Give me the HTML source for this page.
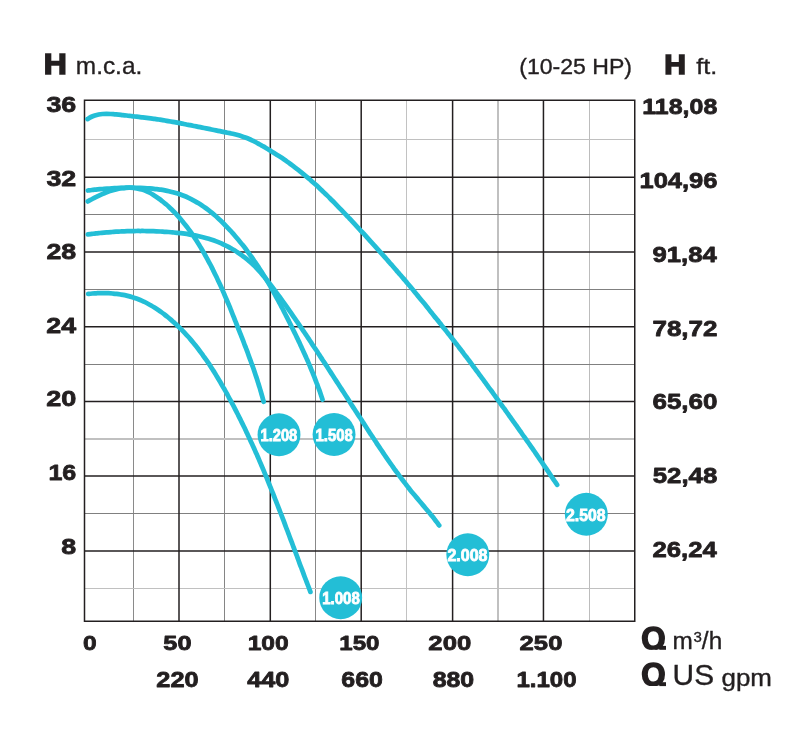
<!DOCTYPE html>
<html lang="es"><head><meta charset="utf-8"><title>Curvas</title>
<style>html,body{margin:0;padding:0;background:#fff}body{width:802px;height:740px;overflow:hidden}svg{display:block}text{font-family:"Liberation Sans",sans-serif;fill:#231f20}.b{font-weight:bold;stroke:#231f20;stroke-width:.8px;stroke-linejoin:round}.r{stroke:#231f20;stroke-width:.35px}.k{font-weight:bold;stroke:#231f20;stroke-width:1.5px;stroke-linejoin:miter}.w{font-weight:bold;fill:#fff;stroke:#fff;stroke-width:.8px}</style></head><body>
<svg width="802" height="740" viewBox="0 0 802 740">
<rect width="802" height="740" fill="#fff"/>
<g shape-rendering="crispEdges"><rect x="133" y="101" width="1" height="520" fill="#8a8a8a"/><rect x="224" y="101" width="1" height="520" fill="#858585"/><rect x="315" y="101" width="1" height="520" fill="#888888"/><rect x="406" y="101" width="1" height="520" fill="#c2c2c2"/><rect x="497" y="101" width="2" height="520" fill="#c0c0c0"/><rect x="589" y="101" width="1" height="520" fill="#bcbcbc"/><rect x="85" y="139" width="549" height="1" fill="#c0c0c0"/><rect x="85" y="214" width="549" height="1" fill="#808080"/><rect x="85" y="289" width="549" height="1" fill="#808080"/><rect x="85" y="364" width="549" height="1" fill="#808080"/><rect x="85" y="438" width="549" height="2" fill="#c0c0c0"/><rect x="85" y="513" width="549" height="1" fill="#808080"/><rect x="85" y="588" width="549" height="1" fill="#c0c0c0"/></g>
<g stroke="#231f20" stroke-width="1.5" fill="none"><line x1="179.00" y1="100.25" x2="179.00" y2="621.25"/><line x1="270.30" y1="100.25" x2="270.30" y2="621.25"/><line x1="361.20" y1="100.25" x2="361.20" y2="621.25"/><line x1="452.60" y1="100.25" x2="452.60" y2="621.25"/><line x1="543.45" y1="100.25" x2="543.45" y2="621.25"/><line x1="84.50" y1="177.30" x2="634.75" y2="177.30"/><line x1="84.50" y1="251.90" x2="634.75" y2="251.90"/><line x1="84.50" y1="326.70" x2="634.75" y2="326.70"/><line x1="84.50" y1="401.50" x2="634.75" y2="401.50"/><line x1="84.50" y1="476.10" x2="634.75" y2="476.10"/><line x1="84.50" y1="551.00" x2="634.75" y2="551.00"/><rect x="84.50" y="100.25" width="550.25" height="521.00"/></g>
<g stroke="#23bed6" stroke-width="4.75" fill="none" stroke-linecap="round" stroke-linejoin="round"><path d="M87.50,119.10 C88.08,118.75 89.78,117.60 91.00,117.00 C92.22,116.40 93.53,115.92 94.80,115.50 C96.07,115.08 97.30,114.75 98.60,114.50 C99.90,114.25 101.27,114.10 102.60,114.00 C103.93,113.90 105.25,113.90 106.60,113.90 C107.95,113.90 109.35,113.93 110.70,114.00 C112.05,114.07 113.37,114.20 114.70,114.30 C116.03,114.40 117.37,114.47 118.70,114.60 C120.03,114.73 121.37,114.95 122.70,115.10 C124.03,115.25 125.37,115.35 126.70,115.50 C128.03,115.65 129.37,115.83 130.70,116.00 C132.03,116.17 133.37,116.35 134.70,116.50 C136.03,116.65 137.37,116.75 138.70,116.90 C140.03,117.05 141.37,117.23 142.70,117.40 C144.03,117.57 145.37,117.73 146.70,117.90 C148.03,118.07 149.37,118.23 150.70,118.40 C152.03,118.57 153.37,118.72 154.70,118.90 C156.03,119.08 157.38,119.30 158.70,119.50 C160.02,119.70 161.28,119.88 162.60,120.10 C163.92,120.32 165.27,120.57 166.60,120.80 C167.93,121.03 169.28,121.27 170.60,121.50 C171.92,121.73 173.18,121.97 174.50,122.20 C175.82,122.43 177.17,122.65 178.50,122.90 C179.83,123.15 181.18,123.43 182.50,123.70 C183.82,123.97 185.08,124.25 186.40,124.50 C187.72,124.75 189.08,124.95 190.40,125.20 C191.72,125.45 192.98,125.73 194.30,126.00 C195.62,126.27 196.98,126.53 198.30,126.80 C199.62,127.07 200.88,127.33 202.20,127.60 C203.52,127.87 204.88,128.13 206.20,128.40 C207.52,128.67 208.80,128.93 210.10,129.20 C211.40,129.47 212.68,129.73 214.00,130.00 C215.32,130.27 216.68,130.53 218.00,130.80 C219.32,131.07 220.58,131.33 221.90,131.60 C223.22,131.87 224.57,132.13 225.90,132.40 C227.23,132.67 228.58,132.93 229.90,133.20 C231.22,133.47 232.50,133.70 233.80,134.00 C235.10,134.30 236.40,134.63 237.70,135.00 C239.00,135.37 240.33,135.78 241.60,136.20 C242.87,136.62 244.05,137.03 245.30,137.50 C246.55,137.97 247.87,138.47 249.10,139.00 C250.33,139.53 251.50,140.12 252.70,140.70 C253.90,141.28 255.12,141.87 256.30,142.50 C257.48,143.13 258.63,143.85 259.80,144.50 C260.97,145.15 262.13,145.73 263.30,146.40 C264.47,147.07 265.63,147.80 266.80,148.50 C267.97,149.20 269.15,149.90 270.30,150.60 C271.45,151.30 272.57,151.98 273.70,152.70 C274.83,153.42 275.97,154.17 277.10,154.90 C278.23,155.63 279.38,156.37 280.50,157.10 C281.62,157.83 282.70,158.55 283.80,159.30 C284.90,160.05 286.00,160.82 287.10,161.60 C288.20,162.38 289.32,163.20 290.40,164.00 C291.48,164.80 292.53,165.60 293.60,166.40 C294.67,167.20 295.73,167.98 296.80,168.80 C297.87,169.62 298.95,170.47 300.00,171.30 C301.05,172.13 302.07,172.95 303.10,173.80 C304.13,174.65 305.17,175.53 306.20,176.40 C307.23,177.27 308.28,178.12 309.30,179.00 C310.32,179.88 311.30,180.82 312.30,181.70 C313.30,182.58 314.30,183.42 315.30,184.30 C316.30,185.18 317.32,186.08 318.30,187.00 C319.28,187.92 320.23,188.87 321.20,189.80 C322.17,190.73 323.13,191.67 324.10,192.60 C325.07,193.53 326.03,194.47 327.00,195.40 C327.97,196.33 328.95,197.27 329.90,198.20 C330.85,199.13 331.77,200.05 332.70,201.00 C333.63,201.95 334.57,202.93 335.50,203.90 C336.43,204.87 337.37,205.83 338.30,206.80 C339.23,207.77 340.17,208.73 341.10,209.70 C342.03,210.67 342.97,211.63 343.90,212.60 C344.83,213.57 345.77,214.52 346.70,215.50 C347.63,216.48 348.58,217.52 349.50,218.50 C350.42,219.48 351.28,220.42 352.20,221.40 C353.12,222.38 354.08,223.42 355.00,224.40 C355.92,225.38 356.80,226.32 357.70,227.30 C358.60,228.28 359.48,229.32 360.40,230.30 C361.32,231.28 362.28,232.22 363.20,233.20 C364.12,234.18 365.00,235.20 365.90,236.20 C366.80,237.20 367.70,238.20 368.60,239.20 C369.50,240.20 370.40,241.22 371.30,242.20 C372.20,243.18 373.10,244.12 374.00,245.10 C374.90,246.08 375.80,247.10 376.70,248.10 C377.60,249.10 378.50,250.10 379.40,251.10 C380.30,252.10 381.20,253.10 382.10,254.10 C383.00,255.10 383.92,256.10 384.80,257.10 C385.68,258.10 386.52,259.08 387.40,260.10 C388.28,261.12 389.20,262.18 390.10,263.20 C391.00,264.22 391.92,265.20 392.80,266.20 C393.68,267.20 394.53,268.18 395.40,269.20 C396.27,270.22 397.12,271.28 398.00,272.30 C398.88,273.32 399.82,274.28 400.70,275.30 C401.58,276.32 402.43,277.38 403.30,278.40 C404.17,279.42 405.03,280.38 405.90,281.40 C406.77,282.42 407.63,283.47 408.50,284.50 C409.37,285.53 410.23,286.57 411.10,287.60 C411.97,288.63 412.85,289.67 413.70,290.70 C414.55,291.73 415.35,292.77 416.20,293.80 C417.05,294.83 417.95,295.87 418.80,296.90 C419.65,297.93 420.45,298.97 421.30,300.00 C422.15,301.03 423.05,302.07 423.90,303.10 C424.75,304.13 425.57,305.15 426.40,306.20 C427.23,307.25 428.07,308.35 428.90,309.40 C429.73,310.45 430.57,311.45 431.40,312.50 C432.23,313.55 433.07,314.65 433.90,315.70 C434.73,316.75 435.55,317.77 436.40,318.80 C437.25,319.83 438.15,320.85 439.00,321.90 C439.85,322.95 440.67,324.05 441.50,325.10 C442.33,326.15 443.17,327.15 444.00,328.20 C444.83,329.25 445.67,330.35 446.50,331.40 C447.33,332.45 448.17,333.45 449.00,334.50 C449.83,335.55 450.68,336.65 451.50,337.70 C452.32,338.75 453.08,339.75 453.90,340.80 C454.72,341.85 455.57,342.93 456.40,344.00 C457.23,345.07 458.08,346.13 458.90,347.20 C459.72,348.27 460.50,349.33 461.30,350.40 C462.10,351.47 462.88,352.53 463.70,353.60 C464.52,354.67 465.38,355.73 466.20,356.80 C467.02,357.87 467.80,358.93 468.60,360.00 C469.40,361.07 470.20,362.12 471.00,363.20 C471.80,364.28 472.60,365.42 473.40,366.50 C474.20,367.58 475.00,368.63 475.80,369.70 C476.60,370.77 477.40,371.82 478.20,372.90 C479.00,373.98 479.80,375.12 480.60,376.20 C481.40,377.28 482.20,378.32 483.00,379.40 C483.80,380.48 484.62,381.62 485.40,382.70 C486.18,383.78 486.92,384.82 487.70,385.90 C488.48,386.98 489.30,388.12 490.10,389.20 C490.90,390.28 491.72,391.32 492.50,392.40 C493.28,393.48 494.02,394.60 494.80,395.70 C495.58,396.80 496.40,397.92 497.20,399.00 C498.00,400.08 498.82,401.12 499.60,402.20 C500.38,403.28 501.12,404.42 501.90,405.50 C502.68,406.58 503.52,407.62 504.30,408.70 C505.08,409.78 505.82,410.90 506.60,412.00 C507.38,413.10 508.22,414.20 509.00,415.30 C509.78,416.40 510.53,417.52 511.30,418.60 C512.07,419.68 512.82,420.72 513.60,421.80 C514.38,422.88 515.22,424.00 516.00,425.10 C516.78,426.20 517.53,427.30 518.30,428.40 C519.07,429.50 519.83,430.60 520.60,431.70 C521.37,432.80 522.12,433.90 522.90,435.00 C523.68,436.10 524.52,437.20 525.30,438.30 C526.08,439.40 526.83,440.50 527.60,441.60 C528.37,442.70 529.13,443.80 529.90,444.90 C530.67,446.00 531.43,447.10 532.20,448.20 C532.97,449.30 533.73,450.40 534.50,451.50 C535.27,452.60 536.05,453.70 536.80,454.80 C537.55,455.90 538.25,457.00 539.00,458.10 C539.75,459.20 540.53,460.28 541.30,461.40 C542.07,462.52 542.83,463.68 543.60,464.80 C544.37,465.92 545.15,467.00 545.90,468.10 C546.65,469.20 547.35,470.28 548.10,471.40 C548.85,472.52 549.65,473.68 550.40,474.80 C551.15,475.92 551.85,476.98 552.60,478.10 C553.35,479.22 554.15,480.38 554.90,481.50 C555.65,482.62 556.73,484.25 557.10,484.80"/><path d="M87.80,190.50 C88.47,190.42 90.45,190.15 91.80,190.00 C93.15,189.85 94.55,189.73 95.90,189.60 C97.25,189.47 98.55,189.32 99.90,189.20 C101.25,189.08 102.65,189.00 104.00,188.90 C105.35,188.80 106.67,188.70 108.00,188.60 C109.33,188.50 110.67,188.38 112.00,188.30 C113.33,188.22 114.65,188.17 116.00,188.10 C117.35,188.03 118.75,187.95 120.10,187.90 C121.45,187.85 122.75,187.83 124.10,187.80 C125.45,187.77 126.85,187.72 128.20,187.70 C129.55,187.68 130.85,187.68 132.20,187.70 C133.55,187.72 134.93,187.77 136.30,187.80 C137.67,187.83 139.05,187.85 140.40,187.90 C141.75,187.95 143.05,188.02 144.40,188.10 C145.75,188.18 147.13,188.30 148.50,188.40 C149.87,188.50 151.23,188.57 152.60,188.70 C153.97,188.83 155.33,189.03 156.70,189.20 C158.07,189.37 159.43,189.50 160.80,189.70 C162.17,189.90 163.55,190.15 164.90,190.40 C166.25,190.65 167.57,190.90 168.90,191.20 C170.23,191.50 171.58,191.85 172.90,192.20 C174.22,192.55 175.52,192.92 176.80,193.30 C178.08,193.68 179.33,194.05 180.60,194.50 C181.87,194.95 183.17,195.48 184.40,196.00 C185.63,196.52 186.80,197.03 188.00,197.60 C189.20,198.17 190.40,198.78 191.60,199.40 C192.80,200.02 194.03,200.65 195.20,201.30 C196.37,201.95 197.47,202.60 198.60,203.30 C199.73,204.00 200.88,204.75 202.00,205.50 C203.12,206.25 204.22,207.02 205.30,207.80 C206.38,208.58 207.43,209.38 208.50,210.20 C209.57,211.02 210.65,211.85 211.70,212.70 C212.75,213.55 213.78,214.42 214.80,215.30 C215.82,216.18 216.80,217.08 217.80,218.00 C218.80,218.92 219.80,219.85 220.80,220.80 C221.80,221.75 222.83,222.73 223.80,223.70 C224.77,224.67 225.67,225.62 226.60,226.60 C227.53,227.58 228.47,228.60 229.40,229.60 C230.33,230.60 231.28,231.58 232.20,232.60 C233.12,233.62 234.02,234.67 234.90,235.70 C235.78,236.73 236.63,237.77 237.50,238.80 C238.37,239.83 239.23,240.85 240.10,241.90 C240.97,242.95 241.85,244.03 242.70,245.10 C243.55,246.17 244.38,247.22 245.20,248.30 C246.02,249.38 246.80,250.52 247.60,251.60 C248.40,252.68 249.20,253.72 250.00,254.80 C250.80,255.88 251.62,256.98 252.40,258.10 C253.18,259.22 253.93,260.38 254.70,261.50 C255.47,262.62 256.25,263.68 257.00,264.80 C257.75,265.92 258.47,267.07 259.20,268.20 C259.93,269.33 260.68,270.47 261.40,271.60 C262.12,272.73 262.78,273.85 263.50,275.00 C264.22,276.15 265.00,277.35 265.70,278.50 C266.40,279.65 267.02,280.75 267.70,281.90 C268.38,283.05 269.12,284.22 269.80,285.40 C270.48,286.58 271.13,287.82 271.80,289.00 C272.47,290.18 273.15,291.33 273.80,292.50 C274.45,293.67 275.05,294.82 275.70,296.00 C276.35,297.18 277.05,298.40 277.70,299.60 C278.35,300.80 278.97,302.00 279.60,303.20 C280.23,304.40 280.87,305.60 281.50,306.80 C282.13,308.00 282.78,309.20 283.40,310.40 C284.02,311.60 284.58,312.80 285.20,314.00 C285.82,315.20 286.48,316.40 287.10,317.60 C287.72,318.80 288.30,319.98 288.90,321.20 C289.50,322.42 290.10,323.68 290.70,324.90 C291.30,326.12 291.90,327.30 292.50,328.50 C293.10,329.70 293.70,330.88 294.30,332.10 C294.90,333.32 295.50,334.57 296.10,335.80 C296.70,337.03 297.32,338.28 297.90,339.50 C298.48,340.72 299.03,341.88 299.60,343.10 C300.17,344.32 300.73,345.57 301.30,346.80 C301.87,348.03 302.43,349.27 303.00,350.50 C303.57,351.73 304.15,352.97 304.70,354.20 C305.25,355.43 305.75,356.67 306.30,357.90 C306.85,359.13 307.45,360.35 308.00,361.60 C308.55,362.85 309.08,364.15 309.60,365.40 C310.12,366.65 310.58,367.85 311.10,369.10 C311.62,370.35 312.18,371.65 312.70,372.90 C313.22,374.15 313.72,375.35 314.20,376.60 C314.68,377.85 315.12,379.13 315.60,380.40 C316.08,381.67 316.62,382.93 317.10,384.20 C317.58,385.47 318.03,386.73 318.50,388.00 C318.97,389.27 319.45,390.52 319.90,391.80 C320.35,393.08 320.77,394.42 321.20,395.70 C321.63,396.98 322.28,398.87 322.50,399.50"/><path d="M87.80,201.40 C88.38,201.08 90.13,200.13 91.30,199.50 C92.47,198.87 93.60,198.22 94.80,197.60 C96.00,196.98 97.27,196.38 98.50,195.80 C99.73,195.22 100.95,194.65 102.20,194.10 C103.45,193.55 104.72,193.00 106.00,192.50 C107.28,192.00 108.60,191.53 109.90,191.10 C111.20,190.67 112.48,190.27 113.80,189.90 C115.12,189.53 116.47,189.18 117.80,188.90 C119.13,188.62 120.45,188.38 121.80,188.20 C123.15,188.02 124.55,187.88 125.90,187.80 C127.25,187.72 128.57,187.67 129.90,187.70 C131.23,187.73 132.57,187.85 133.90,188.00 C135.23,188.15 136.58,188.35 137.90,188.60 C139.22,188.85 140.52,189.13 141.80,189.50 C143.08,189.87 144.37,190.30 145.60,190.80 C146.83,191.30 148.02,191.88 149.20,192.50 C150.38,193.12 151.55,193.80 152.70,194.50 C153.85,195.20 154.98,195.95 156.10,196.70 C157.22,197.45 158.32,198.20 159.40,199.00 C160.48,199.80 161.53,200.65 162.60,201.50 C163.67,202.35 164.77,203.23 165.80,204.10 C166.83,204.97 167.82,205.80 168.80,206.70 C169.78,207.60 170.73,208.55 171.70,209.50 C172.67,210.45 173.67,211.43 174.60,212.40 C175.53,213.37 176.40,214.30 177.30,215.30 C178.20,216.30 179.12,217.37 180.00,218.40 C180.88,219.43 181.73,220.45 182.60,221.50 C183.47,222.55 184.35,223.63 185.20,224.70 C186.05,225.77 186.88,226.82 187.70,227.90 C188.52,228.98 189.32,230.10 190.10,231.20 C190.88,232.30 191.63,233.38 192.40,234.50 C193.17,235.62 193.95,236.77 194.70,237.90 C195.45,239.03 196.17,240.15 196.90,241.30 C197.63,242.45 198.38,243.65 199.10,244.80 C199.82,245.95 200.52,247.05 201.20,248.20 C201.88,249.35 202.53,250.53 203.20,251.70 C203.87,252.87 204.53,254.02 205.20,255.20 C205.87,256.38 206.55,257.60 207.20,258.80 C207.85,260.00 208.47,261.22 209.10,262.40 C209.73,263.58 210.38,264.72 211.00,265.90 C211.62,267.08 212.20,268.28 212.80,269.50 C213.40,270.72 214.00,271.98 214.60,273.20 C215.20,274.42 215.82,275.58 216.40,276.80 C216.98,278.02 217.53,279.28 218.10,280.50 C218.67,281.72 219.23,282.88 219.80,284.10 C220.37,285.32 220.95,286.57 221.50,287.80 C222.05,289.03 222.57,290.27 223.10,291.50 C223.63,292.73 224.17,293.95 224.70,295.20 C225.23,296.45 225.77,297.75 226.30,299.00 C226.83,300.25 227.37,301.47 227.90,302.70 C228.43,303.93 228.98,305.15 229.50,306.40 C230.02,307.65 230.50,308.93 231.00,310.20 C231.50,311.47 232.00,312.75 232.50,314.00 C233.00,315.25 233.50,316.45 234.00,317.70 C234.50,318.95 235.00,320.23 235.50,321.50 C236.00,322.77 236.50,324.05 237.00,325.30 C237.50,326.55 238.00,327.75 238.50,329.00 C239.00,330.25 239.50,331.53 240.00,332.80 C240.50,334.07 241.00,335.33 241.50,336.60 C242.00,337.87 242.52,339.13 243.00,340.40 C243.48,341.67 243.92,342.93 244.40,344.20 C244.88,345.47 245.42,346.75 245.90,348.00 C246.38,349.25 246.83,350.43 247.30,351.70 C247.77,352.97 248.23,354.32 248.70,355.60 C249.17,356.88 249.63,358.13 250.10,359.40 C250.57,360.67 251.03,361.93 251.50,363.20 C251.97,364.47 252.45,365.73 252.90,367.00 C253.35,368.27 253.77,369.52 254.20,370.80 C254.63,372.08 255.07,373.42 255.50,374.70 C255.93,375.98 256.38,377.22 256.80,378.50 C257.22,379.78 257.60,381.12 258.00,382.40 C258.40,383.68 258.80,384.92 259.20,386.20 C259.60,387.48 260.02,388.80 260.40,390.10 C260.78,391.40 261.13,392.70 261.50,394.00 C261.87,395.30 262.23,396.60 262.60,397.90 C262.97,399.20 263.52,401.15 263.70,401.80"/><path d="M87.80,234.40 C88.48,234.32 90.55,234.07 91.90,233.90 C93.25,233.73 94.55,233.55 95.90,233.40 C97.25,233.25 98.65,233.13 100.00,233.00 C101.35,232.87 102.65,232.72 104.00,232.60 C105.35,232.48 106.75,232.40 108.10,232.30 C109.45,232.20 110.77,232.10 112.10,232.00 C113.43,231.90 114.75,231.78 116.10,231.70 C117.45,231.62 118.85,231.57 120.20,231.50 C121.55,231.43 122.87,231.35 124.20,231.30 C125.53,231.25 126.87,231.23 128.20,231.20 C129.53,231.17 130.85,231.13 132.20,231.10 C133.55,231.07 134.95,231.02 136.30,231.00 C137.65,230.98 138.97,231.00 140.30,231.00 C141.63,231.00 142.97,230.98 144.30,231.00 C145.63,231.02 146.95,231.07 148.30,231.10 C149.65,231.13 151.05,231.17 152.40,231.20 C153.75,231.23 155.05,231.25 156.40,231.30 C157.75,231.35 159.15,231.42 160.50,231.50 C161.85,231.58 163.15,231.72 164.50,231.80 C165.85,231.88 167.23,231.90 168.60,232.00 C169.97,232.10 171.33,232.27 172.70,232.40 C174.07,232.53 175.45,232.67 176.80,232.80 C178.15,232.93 179.45,233.05 180.80,233.20 C182.15,233.35 183.55,233.52 184.90,233.70 C186.25,233.88 187.55,234.08 188.90,234.30 C190.25,234.52 191.65,234.75 193.00,235.00 C194.35,235.25 195.68,235.52 197.00,235.80 C198.32,236.08 199.60,236.38 200.90,236.70 C202.20,237.02 203.50,237.35 204.80,237.70 C206.10,238.05 207.40,238.42 208.70,238.80 C210.00,239.18 211.32,239.57 212.60,240.00 C213.88,240.43 215.15,240.92 216.40,241.40 C217.65,241.88 218.87,242.37 220.10,242.90 C221.33,243.43 222.58,244.03 223.80,244.60 C225.02,245.17 226.22,245.68 227.40,246.30 C228.58,246.92 229.73,247.63 230.90,248.30 C232.07,248.97 233.25,249.60 234.40,250.30 C235.55,251.00 236.68,251.77 237.80,252.50 C238.92,253.23 240.02,253.92 241.10,254.70 C242.18,255.48 243.23,256.37 244.30,257.20 C245.37,258.03 246.47,258.85 247.50,259.70 C248.53,260.55 249.50,261.40 250.50,262.30 C251.50,263.20 252.53,264.17 253.50,265.10 C254.47,266.03 255.37,266.93 256.30,267.90 C257.23,268.87 258.18,269.90 259.10,270.90 C260.02,271.90 260.92,272.87 261.80,273.90 C262.68,274.93 263.53,276.05 264.40,277.10 C265.27,278.15 266.15,279.15 267.00,280.20 C267.85,281.25 268.67,282.32 269.50,283.40 C270.33,284.48 271.18,285.62 272.00,286.70 C272.82,287.78 273.60,288.82 274.40,289.90 C275.20,290.98 275.98,292.12 276.80,293.20 C277.62,294.28 278.50,295.32 279.30,296.40 C280.10,297.48 280.82,298.60 281.60,299.70 C282.38,300.80 283.20,301.90 284.00,303.00 C284.80,304.10 285.62,305.20 286.40,306.30 C287.18,307.40 287.93,308.50 288.70,309.60 C289.47,310.70 290.23,311.78 291.00,312.90 C291.77,314.02 292.53,315.18 293.30,316.30 C294.07,317.42 294.83,318.50 295.60,319.60 C296.37,320.70 297.13,321.78 297.90,322.90 C298.67,324.02 299.43,325.18 300.20,326.30 C300.97,327.42 301.73,328.48 302.50,329.60 C303.27,330.72 304.05,331.88 304.80,333.00 C305.55,334.12 306.25,335.18 307.00,336.30 C307.75,337.42 308.55,338.57 309.30,339.70 C310.05,340.83 310.77,341.97 311.50,343.10 C312.23,344.23 312.95,345.38 313.70,346.50 C314.45,347.62 315.25,348.68 316.00,349.80 C316.75,350.92 317.47,352.07 318.20,353.20 C318.93,354.33 319.67,355.47 320.40,356.60 C321.13,357.73 321.85,358.87 322.60,360.00 C323.35,361.13 324.15,362.27 324.90,363.40 C325.65,364.53 326.37,365.67 327.10,366.80 C327.83,367.93 328.57,369.07 329.30,370.20 C330.03,371.33 330.77,372.47 331.50,373.60 C332.23,374.73 332.97,375.87 333.70,377.00 C334.43,378.13 335.17,379.27 335.90,380.40 C336.63,381.53 337.37,382.67 338.10,383.80 C338.83,384.93 339.57,386.07 340.30,387.20 C341.03,388.33 341.77,389.47 342.50,390.60 C343.23,391.73 343.97,392.87 344.70,394.00 C345.43,395.13 346.17,396.27 346.90,397.40 C347.63,398.53 348.38,399.67 349.10,400.80 C349.82,401.93 350.48,403.07 351.20,404.20 C351.92,405.33 352.67,406.47 353.40,407.60 C354.13,408.73 354.87,409.87 355.60,411.00 C356.33,412.13 357.05,413.27 357.80,414.40 C358.55,415.53 359.35,416.67 360.10,417.80 C360.85,418.93 361.57,420.07 362.30,421.20 C363.03,422.33 363.77,423.47 364.50,424.60 C365.23,425.73 365.97,426.87 366.70,428.00 C367.43,429.13 368.17,430.27 368.90,431.40 C369.63,432.53 370.35,433.67 371.10,434.80 C371.85,435.93 372.65,437.08 373.40,438.20 C374.15,439.32 374.87,440.38 375.60,441.50 C376.33,442.62 377.05,443.77 377.80,444.90 C378.55,446.03 379.33,447.17 380.10,448.30 C380.87,449.43 381.65,450.58 382.40,451.70 C383.15,452.82 383.85,453.88 384.60,455.00 C385.35,456.12 386.13,457.28 386.90,458.40 C387.67,459.52 388.42,460.60 389.20,461.70 C389.98,462.80 390.82,463.90 391.60,465.00 C392.38,466.10 393.12,467.20 393.90,468.30 C394.68,469.40 395.50,470.50 396.30,471.60 C397.10,472.70 397.90,473.82 398.70,474.90 C399.50,475.98 400.30,477.03 401.10,478.10 C401.90,479.17 402.68,480.23 403.50,481.30 C404.32,482.37 405.17,483.43 406.00,484.50 C406.83,485.57 407.67,486.63 408.50,487.70 C409.33,488.77 410.15,489.85 411.00,490.90 C411.85,491.95 412.73,492.97 413.60,494.00 C414.47,495.03 415.33,496.07 416.20,497.10 C417.07,498.13 417.93,499.17 418.80,500.20 C419.67,501.23 420.53,502.27 421.40,503.30 C422.27,504.33 423.13,505.37 424.00,506.40 C424.87,507.43 425.73,508.47 426.60,509.50 C427.47,510.53 428.33,511.55 429.20,512.60 C430.07,513.65 430.95,514.75 431.80,515.80 C432.65,516.85 433.47,517.85 434.30,518.90 C435.13,519.95 435.98,521.02 436.80,522.10 C437.62,523.18 438.80,524.85 439.20,525.40"/><path d="M88.20,293.90 C88.87,293.83 90.87,293.60 92.20,293.50 C93.53,293.40 94.85,293.37 96.20,293.30 C97.55,293.23 98.93,293.13 100.30,293.10 C101.67,293.07 103.03,293.08 104.40,293.10 C105.77,293.12 107.13,293.13 108.50,293.20 C109.87,293.27 111.25,293.38 112.60,293.50 C113.95,293.62 115.25,293.73 116.60,293.90 C117.95,294.07 119.35,294.28 120.70,294.50 C122.05,294.72 123.38,294.93 124.70,295.20 C126.02,295.47 127.30,295.77 128.60,296.10 C129.90,296.43 131.20,296.80 132.50,297.20 C133.80,297.60 135.12,298.03 136.40,298.50 C137.68,298.97 138.95,299.47 140.20,300.00 C141.45,300.53 142.68,301.12 143.90,301.70 C145.12,302.28 146.30,302.87 147.50,303.50 C148.70,304.13 149.93,304.82 151.10,305.50 C152.27,306.18 153.37,306.88 154.50,307.60 C155.63,308.32 156.77,309.05 157.90,309.80 C159.03,310.55 160.20,311.32 161.30,312.10 C162.40,312.88 163.43,313.68 164.50,314.50 C165.57,315.32 166.65,316.15 167.70,317.00 C168.75,317.85 169.78,318.72 170.80,319.60 C171.82,320.48 172.80,321.40 173.80,322.30 C174.80,323.20 175.82,324.08 176.80,325.00 C177.78,325.92 178.75,326.87 179.70,327.80 C180.65,328.73 181.57,329.63 182.50,330.60 C183.43,331.57 184.38,332.62 185.30,333.60 C186.22,334.58 187.10,335.50 188.00,336.50 C188.90,337.50 189.82,338.57 190.70,339.60 C191.58,340.63 192.45,341.67 193.30,342.70 C194.15,343.73 194.97,344.75 195.80,345.80 C196.63,346.85 197.47,347.92 198.30,349.00 C199.13,350.08 200.00,351.20 200.80,352.30 C201.60,353.40 202.32,354.50 203.10,355.60 C203.88,356.70 204.72,357.80 205.50,358.90 C206.28,360.00 207.03,361.08 207.80,362.20 C208.57,363.32 209.35,364.45 210.10,365.60 C210.85,366.75 211.57,367.95 212.30,369.10 C213.03,370.25 213.78,371.35 214.50,372.50 C215.22,373.65 215.90,374.83 216.60,376.00 C217.30,377.17 218.00,378.33 218.70,379.50 C219.40,380.67 220.12,381.82 220.80,383.00 C221.48,384.18 222.12,385.42 222.80,386.60 C223.48,387.78 224.22,388.92 224.90,390.10 C225.58,391.28 226.25,392.50 226.90,393.70 C227.55,394.90 228.15,396.10 228.80,397.30 C229.45,398.50 230.15,399.70 230.80,400.90 C231.45,402.10 232.07,403.30 232.70,404.50 C233.33,405.70 233.98,406.90 234.60,408.10 C235.22,409.30 235.78,410.50 236.40,411.70 C237.02,412.90 237.68,414.10 238.30,415.30 C238.92,416.50 239.50,417.68 240.10,418.90 C240.70,420.12 241.30,421.38 241.90,422.60 C242.50,423.82 243.10,424.98 243.70,426.20 C244.30,427.42 244.92,428.67 245.50,429.90 C246.08,431.13 246.63,432.38 247.20,433.60 C247.77,434.82 248.33,435.98 248.90,437.20 C249.47,438.42 250.03,439.67 250.60,440.90 C251.17,442.13 251.73,443.37 252.30,444.60 C252.87,445.83 253.45,447.07 254.00,448.30 C254.55,449.53 255.05,450.77 255.60,452.00 C256.15,453.23 256.75,454.47 257.30,455.70 C257.85,456.93 258.37,458.15 258.90,459.40 C259.43,460.65 259.97,461.95 260.50,463.20 C261.03,464.45 261.57,465.67 262.10,466.90 C262.63,468.13 263.18,469.35 263.70,470.60 C264.22,471.85 264.68,473.15 265.20,474.40 C265.72,475.65 266.28,476.85 266.80,478.10 C267.32,479.35 267.80,480.65 268.30,481.90 C268.80,483.15 269.30,484.35 269.80,485.60 C270.30,486.85 270.78,488.13 271.30,489.40 C271.82,490.67 272.40,491.95 272.90,493.20 C273.40,494.45 273.82,495.65 274.30,496.90 C274.78,498.15 275.30,499.43 275.80,500.70 C276.30,501.97 276.80,503.23 277.30,504.50 C277.80,505.77 278.32,507.05 278.80,508.30 C279.28,509.55 279.72,510.75 280.20,512.00 C280.68,513.25 281.20,514.53 281.70,515.80 C282.20,517.07 282.72,518.33 283.20,519.60 C283.68,520.87 284.13,522.13 284.60,523.40 C285.07,524.67 285.52,525.93 286.00,527.20 C286.48,528.47 287.02,529.73 287.50,531.00 C287.98,532.27 288.43,533.53 288.90,534.80 C289.37,536.07 289.82,537.33 290.30,538.60 C290.78,539.87 291.32,541.13 291.80,542.40 C292.28,543.67 292.73,544.93 293.20,546.20 C293.67,547.47 294.12,548.73 294.60,550.00 C295.08,551.27 295.62,552.53 296.10,553.80 C296.58,555.07 297.03,556.32 297.50,557.60 C297.97,558.88 298.43,560.22 298.90,561.50 C299.37,562.78 299.82,564.03 300.30,565.30 C300.78,566.57 301.32,567.83 301.80,569.10 C302.28,570.37 302.73,571.63 303.20,572.90 C303.67,574.17 304.12,575.43 304.60,576.70 C305.08,577.97 305.62,579.23 306.10,580.50 C306.58,581.77 307.02,583.03 307.50,584.30 C307.98,585.57 308.52,586.83 309.00,588.10 C309.48,589.37 310.17,591.27 310.40,591.90"/></g>
<circle cx="279.00" cy="434.80" r="21.45" fill="#23bed6"/>
<circle cx="334.05" cy="434.50" r="21.45" fill="#23bed6"/>
<circle cx="340.70" cy="597.70" r="21.45" fill="#23bed6"/>
<circle cx="467.80" cy="554.75" r="21.45" fill="#23bed6"/>
<circle cx="586.30" cy="514.30" r="21.45" fill="#23bed6"/>
<defs><clipPath id="q1"><rect x="630" y="600" width="60" height="49.80"/></clipPath><clipPath id="q2"><rect x="630" y="655" width="60" height="31.10"/></clipPath></defs>
<rect x="659.3" y="645.90" width="6.7" height="3.9" fill="#231f20"/><rect x="659.3" y="682.20" width="6.7" height="3.9" fill="#231f20"/>
<text class="b" x="46.45" y="112.00" font-size="22.9" textLength="29.84" lengthAdjust="spacingAndGlyphs">36</text>
<text class="b" x="46.40" y="185.60" font-size="22.9" textLength="29.79" lengthAdjust="spacingAndGlyphs">32</text>
<text class="b" x="46.50" y="259.20" font-size="22.9" textLength="29.74" lengthAdjust="spacingAndGlyphs">28</text>
<text class="b" x="46.22" y="332.80" font-size="22.9" textLength="29.85" lengthAdjust="spacingAndGlyphs">24</text>
<text class="b" x="46.21" y="406.40" font-size="22.9" textLength="30.09" lengthAdjust="spacingAndGlyphs">20</text>
<text class="b" x="48.45" y="480.00" font-size="22.9" textLength="27.85" lengthAdjust="spacingAndGlyphs">16</text>
<text class="b" x="61.26" y="553.60" font-size="22.9" textLength="14.90" lengthAdjust="spacingAndGlyphs">8</text>
<text class="b" x="642.35" y="113.60" font-size="22.7" textLength="74.95" lengthAdjust="spacingAndGlyphs">118,08</text>
<text class="b" x="639.45" y="187.57" font-size="22.7" textLength="78.10" lengthAdjust="spacingAndGlyphs">104,96</text>
<text class="b" x="652.45" y="261.54" font-size="22.7" textLength="64.35" lengthAdjust="spacingAndGlyphs">91,84</text>
<text class="b" x="652.45" y="335.51" font-size="22.7" textLength="65.09" lengthAdjust="spacingAndGlyphs">78,72</text>
<text class="b" x="652.45" y="409.48" font-size="22.7" textLength="65.09" lengthAdjust="spacingAndGlyphs">65,60</text>
<text class="b" x="652.70" y="483.45" font-size="22.7" textLength="64.59" lengthAdjust="spacingAndGlyphs">52,48</text>
<text class="b" x="652.40" y="557.42" font-size="22.7" textLength="64.40" lengthAdjust="spacingAndGlyphs">26,24</text>
<text class="b" x="82.96" y="650.30" font-size="21.0" textLength="13.65" lengthAdjust="spacingAndGlyphs">0</text>
<text class="b" x="163.39" y="650.30" font-size="21.0" textLength="28.14" lengthAdjust="spacingAndGlyphs">50</text>
<text class="b" x="247.65" y="650.30" font-size="21.0" textLength="41.06" lengthAdjust="spacingAndGlyphs">100</text>
<text class="b" x="339.29" y="650.30" font-size="21.0" textLength="40.26" lengthAdjust="spacingAndGlyphs">150</text>
<text class="b" x="428.34" y="650.30" font-size="21.0" textLength="42.91" lengthAdjust="spacingAndGlyphs">200</text>
<text class="b" x="519.64" y="650.30" font-size="21.0" textLength="42.77" lengthAdjust="spacingAndGlyphs">250</text>
<text class="b" x="156.39" y="687.30" font-size="21.4" textLength="42.25" lengthAdjust="spacingAndGlyphs">220</text>
<text class="b" x="247.20" y="687.30" font-size="21.4" textLength="42.25" lengthAdjust="spacingAndGlyphs">440</text>
<text class="b" x="341.30" y="687.30" font-size="21.4" textLength="41.54" lengthAdjust="spacingAndGlyphs">660</text>
<text class="b" x="432.70" y="687.30" font-size="21.4" textLength="41.55" lengthAdjust="spacingAndGlyphs">880</text>
<text class="b" x="516.48" y="687.30" font-size="21.4" textLength="60.13" lengthAdjust="spacingAndGlyphs">1.100</text>
<text class="k" x="43.78" y="73.60" font-size="28.6" textLength="23.10" lengthAdjust="spacingAndGlyphs">H</text>
<text class="r" x="75.80" y="74.30" font-size="24.0" textLength="66.47" lengthAdjust="spacingAndGlyphs">m.c.a.</text>
<text class="r" x="519.24" y="74.40" font-size="22.0" textLength="112.73" lengthAdjust="spacingAndGlyphs">(10-25 HP)</text>
<text class="k" x="664.35" y="73.60" font-size="27.4" textLength="21.76" lengthAdjust="spacingAndGlyphs">H</text>
<text class="r" x="696.35" y="74.40" font-size="22.3" textLength="20.97" lengthAdjust="spacingAndGlyphs">ft.</text>
<text class="k" clip-path="url(#q1)" x="641.30" y="649.00" font-size="30.6" textLength="24.28" lengthAdjust="spacingAndGlyphs">Q</text>
<text class="k" clip-path="url(#q2)" x="641.30" y="685.40" font-size="30.6" textLength="24.28" lengthAdjust="spacingAndGlyphs">Q</text>
<text class="r" x="672.64" y="685.20" font-size="29.5" textLength="41.47" lengthAdjust="spacingAndGlyphs">US</text>
<text class="r" x="721.47" y="685.90" font-size="23.6" textLength="50.48" lengthAdjust="spacingAndGlyphs">gpm</text>
<text class="w" x="260.46" y="441.30" font-size="15.6" textLength="36.83" lengthAdjust="spacingAndGlyphs">1.208</text>
<text class="w" x="315.46" y="441.10" font-size="15.6" textLength="37.33" lengthAdjust="spacingAndGlyphs">1.508</text>
<text class="w" x="322.21" y="604.20" font-size="15.6" textLength="37.59" lengthAdjust="spacingAndGlyphs">1.008</text>
<text class="w" x="447.45" y="561.20" font-size="15.6" textLength="40.10" lengthAdjust="spacingAndGlyphs">2.008</text>
<text class="w" x="565.94" y="520.80" font-size="15.6" textLength="39.61" lengthAdjust="spacingAndGlyphs">2.508</text>
<text class="r" x="672.6" y="649" font-size="23.5" textLength="49.6" lengthAdjust="spacingAndGlyphs">m<tspan font-size="14.5" dy="-7.2" dx="0.6">3</tspan><tspan dy="7.2">/h</tspan></text>
</svg></body></html>
